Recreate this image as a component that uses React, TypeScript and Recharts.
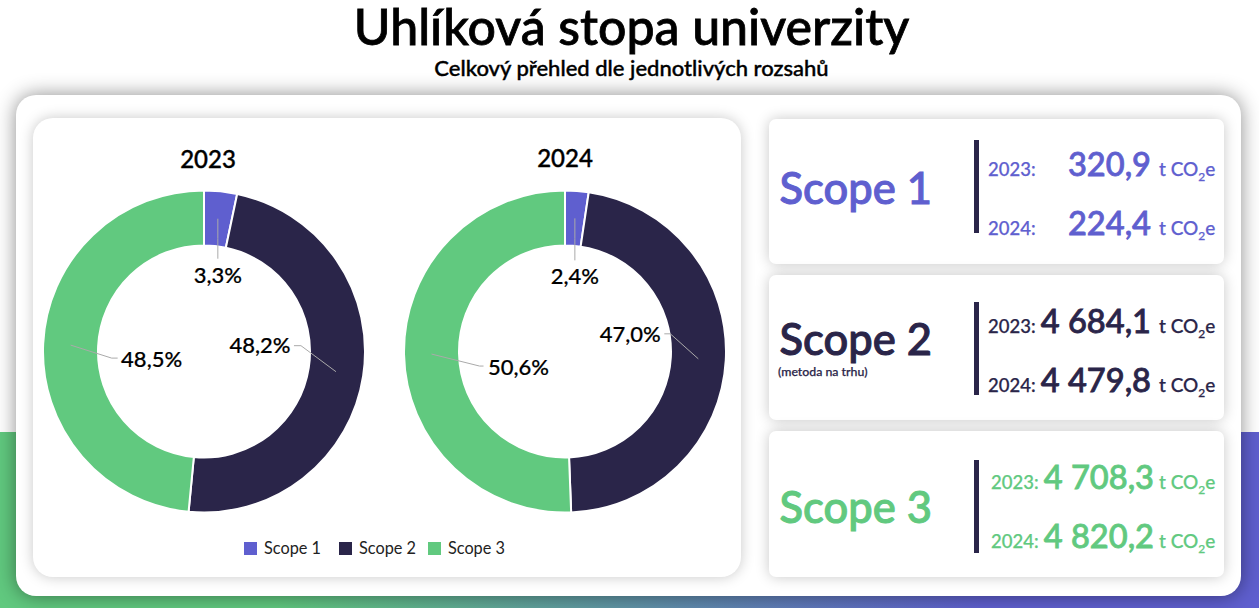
import { Cell, Legend, Pie, PieChart } from 'recharts';

const SCOPES = ['Scope 1', 'Scope 2', 'Scope 3'];
const YEARS = ['2023', '2024'];
const VALUES_2023 = [320.9, 4684.1, 4708.3];
const VALUES_2024 = [224.4, 4479.8, 4820.2];
const COLORS = ['#5f5fcf', '#2a2549', '#61c97f'];
const DIVIDER = '#2a2549';

const rows = (values: number[]) => values.map((value, i) => ({ name: SCOPES[i], value }));

// hand placed labels: elbow, line end and text centre, relative to the middle of the ring
const LABELS_2023 = [
  { elbow: [0, 20], end: [0, 40], text: [0, 56] },
  { elbow: [-35, -26], end: [-42, -26], text: [-76, -27] },
  { elbow: [41, 13], end: [47, 13], text: [81, 13] },
];
const LABELS_2024 = [
  { elbow: [0, 20], end: [0, 42], text: [0, 57] },
  { elbow: [-28, -25], end: [-34, -25], text: [-68, -25] },
  { elbow: [48, 12], end: [52, 12], text: [87, 12] },
];

const percentLabel = (layout: typeof LABELS_2023) => (props: any) => {
  const { cx, cy, midAngle, innerRadius, outerRadius, percent, index } = props;
  const r = (innerRadius + outerRadius) / 2;
  const x = cx + r * Math.cos((-midAngle * Math.PI) / 180);
  const y = cy + r * Math.sin((-midAngle * Math.PI) / 180);
  const { elbow, end, text } = layout[index];
  return (
    <g key={index}>
      <polyline
        points={`${x},${y} ${x + elbow[0]},${y + elbow[1]} ${x + end[0]},${y + end[1]}`}
        fill="none"
        stroke="#aaaaaa"
        strokeWidth={1}
      />
      <text
        x={x + text[0]}
        y={y + text[1]}
        textAnchor="middle"
        dominantBaseline="central"
        fontSize={22}
        fontWeight={500}
        fill="#000"
        stroke="#000"
        strokeWidth={0.2}
      >
        {(percent * 100).toFixed(1).replace('.', ',')}%
      </text>
    </g>
  );
};

const formatValue = (value: number) =>
  value.toFixed(1).replace('.', ',').replace(/\B(?=(\d{3})(?!\d))/g, '\u00a0');

function ChartLegend() {
  return (
    <div style={{ display: 'flex', paddingLeft: 211, fontSize: 16.3, color: '#222', height: 18, lineHeight: '18px' }}>
      {SCOPES.map((scope, i) => (
        <span key={scope} style={{ display: 'flex', alignItems: 'center', marginLeft: i === 0 ? 0 : i === 1 ? 18 : 12 }}>
          <span style={{ width: 13, height: 13, background: COLORS[i], marginRight: 7 }} />
          {scope}
        </span>
      ))}
    </div>
  );
}

function ScopeCard({ index, top, height, dividerTop, titleTop, rowsTop, yearLeft, note }: any) {
  const color = COLORS[index];
  const lines = [VALUES_2023[index], VALUES_2024[index]];
  return (
    <>
      <div style={{ position: 'absolute', left: 769, top, width: 455, height, background: '#fff', borderRadius: 7, boxShadow: '0 0 14px rgba(0,0,0,0.22)' }} />
      <div style={{ position: 'absolute', left: 779.5, top: titleTop, fontSize: 43.5, fontWeight: 500, lineHeight: '44px', color, WebkitTextStroke: `1px ${color}` }}>
        {SCOPES[index]}
      </div>
      {note && (
        <div style={{ position: 'absolute', left: 778, top: titleTop + 49, fontSize: 12.3, fontWeight: 500, color, lineHeight: '14px', WebkitTextStroke: `0.25px ${color}` }}>{note}</div>
      )}
      <div style={{ position: 'absolute', left: 974, top: dividerTop, width: 5, height: 93, background: DIVIDER }} />
      {lines.map((value, i) => {
        const rowTop = rowsTop + i * 59;
        return (
          <div key={i} style={{ color }}>
            <div style={{ position: 'absolute', left: yearLeft, top: rowTop + 13, fontSize: 18.5, fontWeight: 500, lineHeight: '24px', WebkitTextStroke: `0.25px ${color}` }}>
              {YEARS[i]}:
            </div>
            <div style={{ position: 'absolute', right: 1259 - 1151 - (index === 2 ? 3 : 0), top: rowTop, fontSize: 32.6, fontWeight: 500, lineHeight: '40px', whiteSpace: 'nowrap', WebkitTextStroke: `0.8px ${color}` }}>
              {formatValue(value)}
            </div>
            <div style={{ position: 'absolute', left: 1159, top: rowTop + 13, fontSize: 19, fontWeight: 500, lineHeight: '24px', whiteSpace: 'nowrap', WebkitTextStroke: `0.25px ${color}` }}>
              t CO<sub style={{ fontSize: 12, lineHeight: 0 }}>2</sub>e
            </div>
          </div>
        );
      })}
    </>
  );
}

export default function App() {
  return (
    <div style={{ position: 'absolute', left: 0, top: 0, width: 1259, height: 608, overflow: 'hidden', background: '#fff', fontFamily: 'Lato, sans-serif' }}>
      <div style={{ position: 'absolute', left: 0, top: 432, width: 1259, height: 176, background: 'linear-gradient(90deg, #61c97f 22%, #5f5fcf 78%)' }} />
      <div style={{ position: 'absolute', left: 4, width: 1255, top: 0, textAlign: 'center', fontSize: 50, fontWeight: 500, lineHeight: '52px', color: '#000', WebkitTextStroke: '0.8px #000' }}>
        Uhlíková stopa univerzity
      </div>
      <div style={{ position: 'absolute', left: 4, width: 1255, top: 55, textAlign: 'center', fontSize: 22, fontWeight: 500, lineHeight: '26px', color: '#000', WebkitTextStroke: '0.4px #000' }}>
        Celkový přehled dle jednotlivých rozsahů
      </div>

      <div style={{ position: 'absolute', left: 16, top: 95, width: 1225, height: 501, background: '#fff', borderRadius: 20, boxShadow: '0 0 20px rgba(0,0,0,0.45)' }} />
      <div style={{ position: 'absolute', left: 33, top: 118, width: 708, height: 459, background: '#fff', borderRadius: 20, boxShadow: '0 0 14px rgba(0,0,0,0.22)' }} />

      <div style={{ position: 'absolute', left: 33, top: 118 }}>
        <PieChart width={708} height={459} margin={{ top: 0, right: 0, bottom: 0, left: 0 }}>
          <text x={175} y={40} textAnchor="middle" dominantBaseline="central" fontSize={24} fontWeight={500} fill="#000" stroke="#000" strokeWidth={0.4}>{YEARS[0]}</text>
          <text x={532} y={39} textAnchor="middle" dominantBaseline="central" fontSize={24} fontWeight={500} fill="#000" stroke="#000" strokeWidth={0.4}>{YEARS[1]}</text>
          {[rows(VALUES_2023), rows(VALUES_2024)].map((data, p) => (
            <Pie
              key={YEARS[p]}
              data={data}
              dataKey="value"
              nameKey="name"
              cx={p === 0 ? 171 : 532}
              cy={233.5}
              innerRadius={106}
              outerRadius={161}
              startAngle={90}
              endAngle={-270}
              stroke="#fff"
              strokeWidth={2}
              label={percentLabel(p === 0 ? LABELS_2023 : LABELS_2024)}
              labelLine={false}
              isAnimationActive={false}
            >
              {data.map((entry, i) => (
                <Cell key={entry.name} fill={COLORS[i]} />
              ))}
            </Pie>
          ))}
          <Legend
            content={() => <ChartLegend />}
            wrapperStyle={{ position: 'absolute', left: 0, top: 421, width: 708 }}
          />
        </PieChart>
      </div>

      <ScopeCard index={0} top={119} height={145} dividerTop={140} titleTop={165} rowsTop={144} yearLeft={988} />
      <ScopeCard index={1} top={275} height={145} dividerTop={302} titleTop={316} rowsTop={301} yearLeft={988} note="(metoda na trhu)" />
      <ScopeCard index={2} top={431} height={146} dividerTop={460} titleTop={484} rowsTop={457} yearLeft={991} />
    </div>
  );
}
